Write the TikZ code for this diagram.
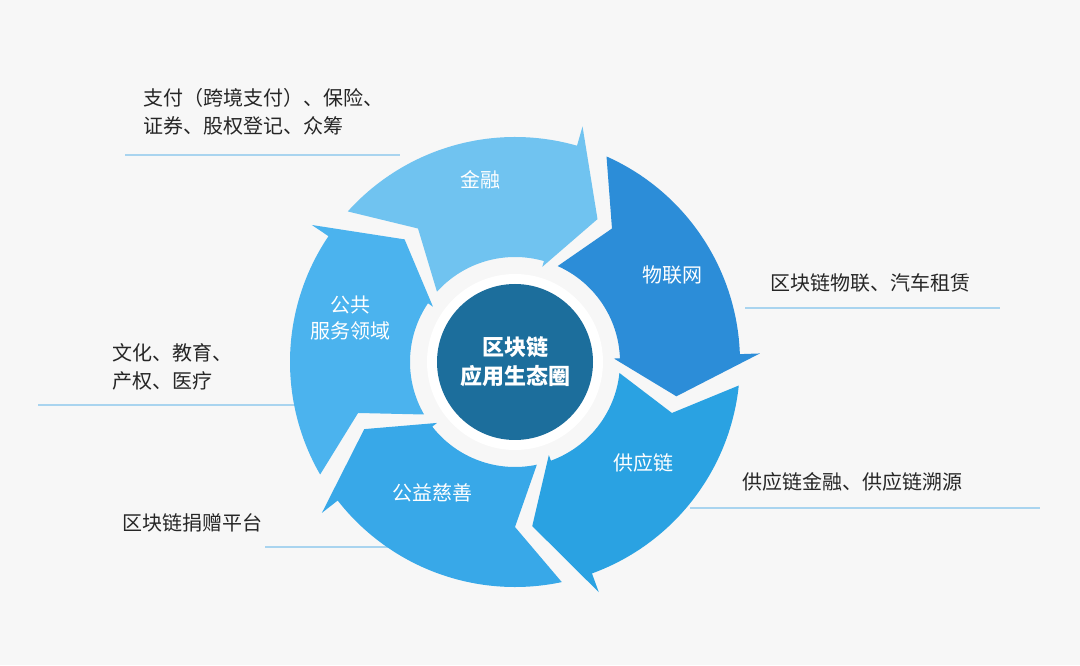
\documentclass[tikz,border=0pt]{standalone}
\usepackage{fontspec}
\setmainfont{Noto Sans CJK SC}
\definecolor{cA}{HTML}{70C3F0}
\definecolor{cB}{HTML}{2C8DD8}
\definecolor{cC}{HTML}{2AA2E2}
\definecolor{cD}{HTML}{38A8E8}
\definecolor{cE}{HTML}{4BB3EE}
\definecolor{cCen}{HTML}{1C6E9C}
\definecolor{gl}{HTML}{A9D4EF}
\begin{document}
\begin{tikzpicture}[x=1pt,y=1pt,
  seg/.style={fill=#1,draw=none},
  side/.style={anchor=west,font=\fontsize{20}{28}\selectfont,text=black!85,align=left,inner sep=0},
  rlab/.style={text=white,font=\fontsize{20}{26}\selectfont,align=center},
  guide/.style={draw=gl,line width=2pt}]
\fill[black!3] (0,0) rectangle (1080,665);
\useasboundingbox (0,0) rectangle (1080,665);
\draw[guide] (125,510) -- (400,510);
\draw[guide] (745,357) -- (1000,357);
\draw[guide] (38,260) -- (320,260);
\draw[guide] (690,157) -- (1040,157);
\draw[guide] (265,118) -- (470,118);
\def\Ro{225}\def\Ri{105}\def\Rm{165}
\begin{scope}[shift={(515,303)}]
\foreach \S/\c in {138/cA, 66/cB, -6/cC, -78/cD, -150/cE}{
  \fill[seg=\c] (\S:\Ro) arc[start angle=\S, end angle=\S-64, radius=\Ro]
    -- (\S-64:\Ro+20) -- (\S-78:\Rm) -- (\S-64:\Ri-6) -- (\S-64:\Ri)
    arc[start angle=\S-64, end angle=\S, radius=\Ri] -- (\S-12:\Rm) -- cycle;
}
\fill[white] (0,0) circle (88);
\fill[cCen] (0,0) circle (78);
\node[text=white,font=\bfseries\fontsize{22}{29}\selectfont,align=center] (c) at (0,0) {区块链\\应用生态圈};
\end{scope}
\node[rlab] (jr) at (480,485) {金融};
\node[rlab] (wl) at (672,390) {物联网};
\node[rlab] (gy) at (643,202) {供应链};
\node[rlab] (gs) at (432,172) {公益慈善};
\node[rlab] (gg) at (350,347) {公共\\服务领域};
\node[side] (t1) at (143,553) {支付（跨境支付）、保险、\\证券、股权登记、众筹};
\node[side] (t2) at (770,382) {区块链物联、汽车租赁};
\node[side] (t3) at (112,298) {文化、教育、\\产权、医疗};
\node[side] (t4) at (742,183) {供应链金融、供应链溯源};
\node[side] (t5) at (122,142) {区块链捐赠平台};
\end{tikzpicture}
\end{document}
